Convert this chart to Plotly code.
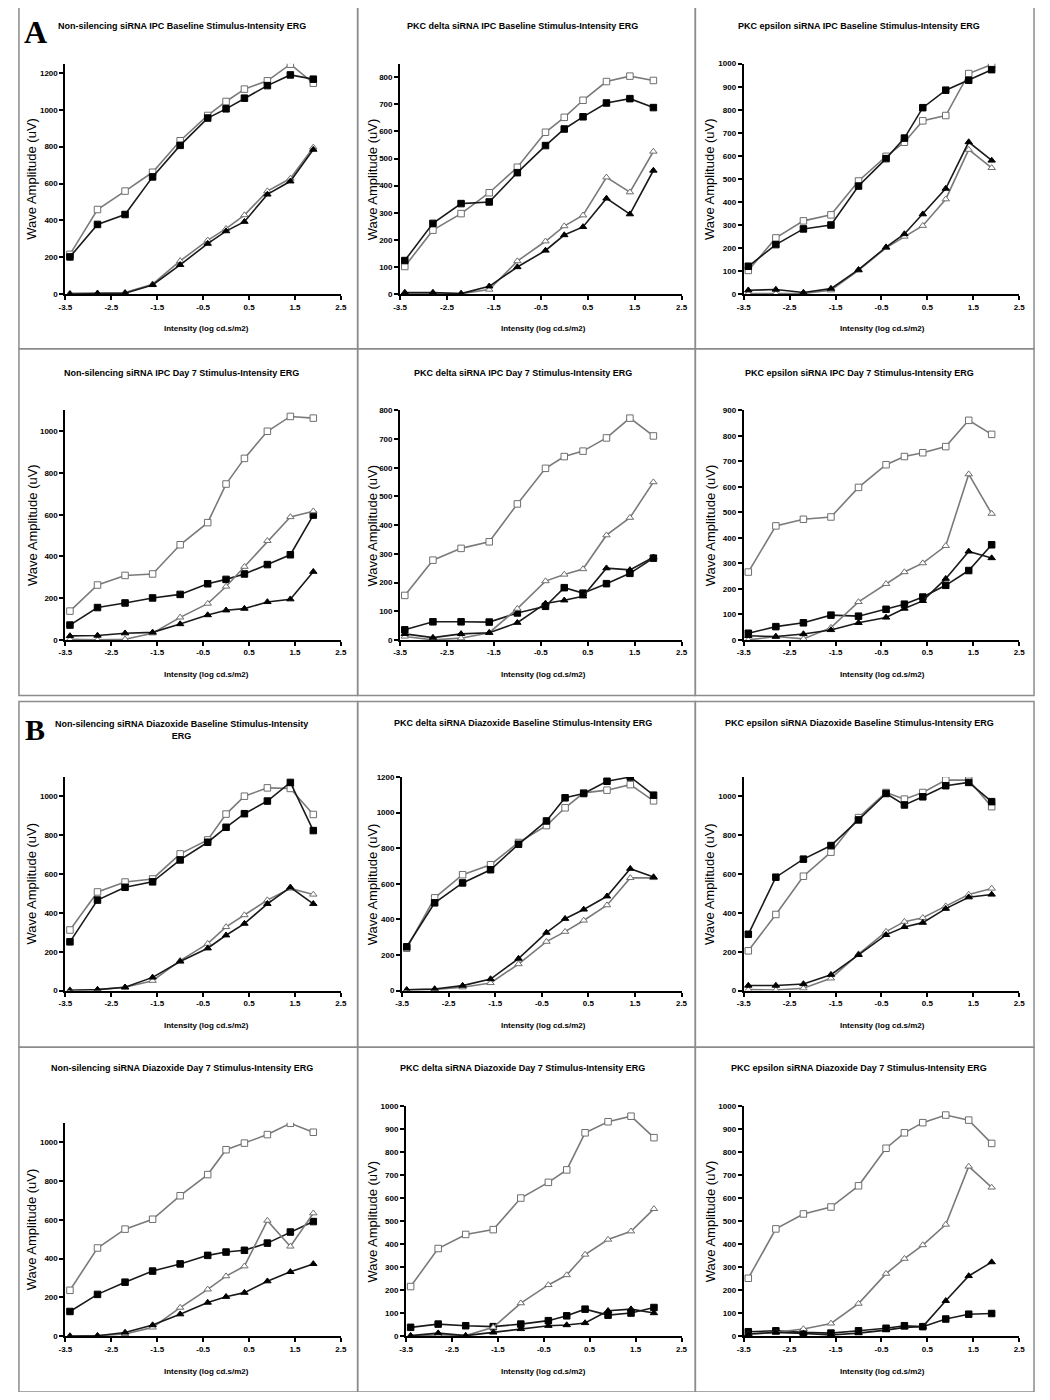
import plotly.graph_objects as go

# ---------------- data ----------------
intensity = [-3.4, -2.8, -2.2, -1.6, -1.0, -0.4, 0.0, 0.4, 0.9, 1.4, 1.9]
x_ticks = [-3.5, -2.5, -1.5, -0.5, 0.5, 1.5, 2.5]
x_tick_labels = ["-3.5", "-2.5", "-1.5", "-0.5", "0.5", "1.5", "2.5"]

titles = [
    "Non-silencing siRNA IPC Baseline Stimulus-Intensity ERG",
    "PKC delta siRNA IPC Baseline Stimulus-Intensity ERG",
    "PKC epsilon siRNA IPC Baseline Stimulus-Intensity ERG",
    "Non-silencing siRNA IPC Day 7 Stimulus-Intensity ERG",
    "PKC delta siRNA IPC Day 7 Stimulus-Intensity ERG",
    "PKC epsilon siRNA IPC Day 7 Stimulus-Intensity ERG",
    "Non-silencing siRNA Diazoxide Baseline Stimulus-Intensity<br>ERG",
    "PKC delta siRNA Diazoxide Baseline Stimulus-Intensity ERG",
    "PKC epsilon siRNA Diazoxide Baseline Stimulus-Intensity ERG",
    "Non-silencing siRNA Diazoxide Day 7 Stimulus-Intensity ERG",
    "PKC delta siRNA Diazoxide Day 7 Stimulus-Intensity ERG",
    "PKC epsilon siRNA Diazoxide Day 7 Stimulus-Intensity ERG",
]
y_max = [1250, 850, 1000, 1100, 800, 900, 1100, 1200, 1100, 1100, 1000, 1000]
y_dtick = [200, 100, 100, 200, 100, 100, 200, 200, 200, 200, 100, 100]

# panel 1
p1_open_sq = [216, 459, 559, 661, 832, 969, 1045, 1112, 1157, 1247, 1144]
p1_fill_sq = [202, 378, 432, 636, 807, 955, 1005, 1063, 1131, 1189, 1166]
p1_open_tri = [4, 5, 9, 54, 180, 292, 355, 429, 559, 627, 796]
p1_fill_tri = [0, 4, 5, 50, 159, 274, 342, 393, 541, 612, 784]
# panel 2
p2_open_sq = [102, 236, 297, 374, 468, 597, 652, 715, 784, 804, 788]
p2_fill_sq = [124, 261, 334, 340, 448, 548, 609, 654, 705, 721, 688]
p2_open_tri = [2, 2, 2, 17, 122, 195, 251, 291, 431, 376, 526]
p2_fill_tri = [6, 6, 2, 29, 100, 161, 218, 248, 353, 295, 456]
# panel 3
p3_open_sq = [103, 244, 318, 344, 491, 598, 659, 752, 775, 957, 996]
p3_fill_sq = [121, 215, 283, 300, 469, 588, 677, 809, 885, 928, 974]
p3_open_tri = [3, 3, 3, 17, 103, 201, 250, 297, 412, 627, 548]
p3_fill_tri = [17, 20, 7, 24, 106, 204, 261, 347, 458, 660, 580]
# panel 4
p4_open_sq = [138, 263, 309, 316, 456, 562, 747, 870, 1000, 1071, 1063]
p4_fill_sq = [71, 155, 177, 201, 218, 269, 290, 316, 361, 408, 598]
p4_open_tri = [3, 0, 3, 32, 108, 174, 256, 351, 475, 589, 617]
p4_fill_tri = [19, 21, 32, 36, 76, 119, 142, 150, 182, 195, 327]
# panel 5
p5_open_sq = [155, 278, 319, 342, 474, 598, 639, 658, 704, 773, 711]
p5_fill_sq = [35, 63, 63, 62, 94, 117, 182, 163, 196, 232, 285]
p5_open_tri = [12, 0, 6, 25, 109, 205, 228, 247, 365, 426, 550]
p5_fill_tri = [21, 8, 21, 25, 60, 127, 138, 152, 250, 244, 288]
# panel 6
p6_open_sq = [266, 447, 473, 482, 598, 687, 719, 734, 758, 861, 806]
p6_fill_sq = [26, 52, 67, 97, 93, 120, 140, 168, 214, 272, 373]
p6_open_tri = [0, 13, 4, 48, 149, 220, 266, 301, 369, 650, 495]
p6_fill_tri = [16, 13, 23, 39, 67, 88, 123, 153, 240, 347, 321]
# panel 7
p7_open_sq = [312, 508, 559, 575, 704, 776, 909, 1001, 1044, 1041, 907]
p7_fill_sq = [251, 466, 532, 560, 673, 764, 841, 911, 976, 1072, 824]
p7_open_tri = [3, 5, 17, 51, 154, 242, 328, 389, 466, 526, 495]
p7_fill_tri = [0, 5, 17, 68, 150, 218, 285, 345, 447, 532, 447]
# panel 8
p8_open_sq = [238, 521, 651, 707, 832, 927, 1027, 1111, 1126, 1157, 1066]
p8_fill_sq = [246, 493, 605, 679, 822, 953, 1083, 1107, 1176, 1200, 1098]
p8_open_tri = [4, 7, 19, 43, 149, 275, 331, 394, 480, 633, 633]
p8_fill_tri = [4, 9, 28, 65, 180, 326, 404, 456, 530, 685, 638]
# panel 9
p9_open_sq = [205, 392, 589, 713, 891, 1020, 986, 1020, 1084, 1084, 947]
p9_fill_sq = [290, 584, 677, 747, 879, 1015, 956, 998, 1055, 1072, 973]
p9_open_tri = [5, 3, 12, 63, 188, 304, 355, 375, 435, 495, 526]
p9_fill_tri = [26, 26, 34, 82, 184, 287, 328, 350, 422, 481, 495]
# panel 10
p10_open_sq = [237, 455, 552, 603, 724, 833, 961, 995, 1039, 1097, 1051]
p10_fill_sq = [128, 216, 279, 336, 373, 417, 434, 443, 480, 537, 591]
p10_open_tri = [3, 3, 12, 46, 148, 242, 310, 361, 596, 463, 634]
p10_fill_tri = [0, 3, 20, 58, 114, 174, 204, 225, 284, 332, 373]
# panel 11
p11_open_sq = [216, 381, 442, 463, 600, 668, 722, 883, 931, 955, 862]
p11_fill_sq = [39, 53, 46, 42, 53, 68, 89, 118, 92, 101, 125]
p11_open_tri = [0, 7, 3, 39, 144, 223, 266, 355, 420, 456, 553]
p11_fill_tri = [3, 14, 3, 17, 32, 46, 49, 58, 111, 118, 101]
# panel 12
p12_open_sq = [252, 466, 531, 561, 653, 816, 883, 927, 960, 938, 837]
p12_fill_sq = [20, 24, 17, 14, 24, 35, 46, 42, 75, 96, 99]
p12_open_tri = [10, 17, 32, 56, 142, 272, 337, 396, 485, 737, 646]
p12_fill_tri = [10, 17, 13, 6, 14, 27, 39, 42, 154, 262, 322]

series = [
    (p1_open_sq, p1_fill_sq, p1_open_tri, p1_fill_tri),
    (p2_open_sq, p2_fill_sq, p2_open_tri, p2_fill_tri),
    (p3_open_sq, p3_fill_sq, p3_open_tri, p3_fill_tri),
    (p4_open_sq, p4_fill_sq, p4_open_tri, p4_fill_tri),
    (p5_open_sq, p5_fill_sq, p5_open_tri, p5_fill_tri),
    (p6_open_sq, p6_fill_sq, p6_open_tri, p6_fill_tri),
    (p7_open_sq, p7_fill_sq, p7_open_tri, p7_fill_tri),
    (p8_open_sq, p8_fill_sq, p8_open_tri, p8_fill_tri),
    (p9_open_sq, p9_fill_sq, p9_open_tri, p9_fill_tri),
    (p10_open_sq, p10_fill_sq, p10_open_tri, p10_fill_tri),
    (p11_open_sq, p11_fill_sq, p11_open_tri, p11_fill_tri),
    (p12_open_sq, p12_fill_sq, p12_open_tri, p12_fill_tri),
]

# ---------------- layout (page pixels) ----------------
PAGE_W, PAGE_H = 1050, 1400
OFF = 8  # default body margin of the html page
W, H = PAGE_W - 2 * OFF, PAGE_H - 2 * OFF

plot_boxes = [
    (59, 60, 338, 292), (398, 60, 683, 292), (746, 60, 1025, 292),
    (59, 409, 338, 640), (398, 409, 683, 640), (746, 409, 1025, 640),
    (59, 778, 338, 993), (400, 778, 683, 993), (746, 778, 1025, 993),
    (59, 1126, 338, 1341), (404, 1109, 683, 1341), (746, 1109, 1025, 1341),
]
title_y = [22, 22, 22, 371, 371, 371, 731, 724, 724, 1071, 1071, 1071]
xtitle_y = [327, 327, 327, 675, 675, 675, 1028, 1028, 1028, 1376, 1376, 1376]
col_title_x = [177, 522, 863]
col_xtitle_x = [202, 543, 887]
col_ytitle_x = [25, 370, 712]


def px(x):
    return (x - OFF) / W


def py(y):
    return 1 - (y - OFF) / H


FONT = "Liberation Sans, Arial"

fig = go.Figure()
annotations = []
shapes = []

for i in range(12):
    ax = "" if i == 0 else str(i + 1)
    xref = "x" + ax
    yref = "y" + ax
    l, t, r, b = plot_boxes[i]
    os_, fs_, ot_, ft_ = series[i]
    specs = [
        (os_, "square", "white", "#6e6e6e", "#7a7a7a"),
        (fs_, "square", "black", "black", "#1a1a1a"),
        (ot_, "triangle-up", "white", "#6e6e6e", "#7a7a7a"),
        (ft_, "triangle-up", "black", "black", "#1a1a1a"),
    ]
    for vals, sym, fill, mline, lcol in specs:
        fig.add_trace(go.Scatter(
            x=intensity, y=vals, mode="lines+markers",
            line=dict(color=lcol, width=1.6),
            marker=dict(symbol=sym, size=6.5, color=fill,
                        line=dict(color=mline, width=1)),
            xaxis=xref, yaxis=yref, showlegend=False, hoverinfo="skip",
        ))
    fig.layout["xaxis" + ax] = dict(
        domain=[px(l), px(r)], anchor=yref, range=[-3.5, 2.5],
        tickvals=x_ticks, ticktext=["<b>%s</b>" % s for s in x_tick_labels],
        showline=True, linecolor="black", linewidth=2,
        ticks="outside", ticklen=4, tickwidth=1.5, tickcolor="black",
        showgrid=False, zeroline=False,
        tickfont=dict(family=FONT, size=8, color="black"),
    )
    ytv = list(range(0, y_max[i] + 1, y_dtick[i]))
    fig.layout["yaxis" + ax] = dict(
        domain=[py(b), py(t)], anchor=xref, range=[0, y_max[i]],
        tickvals=ytv, ticktext=["<b>%d</b>" % v for v in ytv],
        showline=True, linecolor="black", linewidth=2,
        ticks="outside", ticklen=4, tickwidth=1.5, tickcolor="black",
        showgrid=False, zeroline=False,
        tickfont=dict(family=FONT, size=8, color="black"),
    )
    col = i % 3
    annotations.append(dict(
        text="<b>%s</b>" % titles[i], x=px(col_title_x[col]), y=py(title_y[i]),
        xref="paper", yref="paper", showarrow=False, xanchor="center", yanchor="middle",
        font=dict(family=FONT, size=9, color="black"),
    ))
    annotations.append(dict(
        text="<b>Intensity (log cd.s/m2)</b>", x=px(col_xtitle_x[col]), y=py(xtitle_y[i]),
        xref="paper", yref="paper", showarrow=False, xanchor="center", yanchor="middle",
        font=dict(family=FONT, size=8, color="black"),
    ))
    annotations.append(dict(
        text="Wave Amplitude (uV)", x=px(col_ytitle_x[col]), y=py((t + b) / 2),
        xref="paper", yref="paper", showarrow=False, xanchor="center", yanchor="middle",
        textangle=-90, font=dict(family=FONT, size=13, color="black"),
    ))

# panel frames
col_edges = [12, 355, 697, 1040]
group_rows = [(3, 347, 696), (702, 1050, 1397)]
for top, mid, bot in group_rows:
    for y0, y1 in [(top, mid), (mid, bot)]:
        for c in range(3):
            shapes.append(dict(
                type="rect", xref="paper", yref="paper",
                x0=px(col_edges[c]), x1=px(col_edges[c + 1]), y0=py(y1), y1=py(y0),
                line=dict(color="#8c8c8c", width=1.5), fillcolor="rgba(0,0,0,0)",
            ))

annotations.append(dict(text="<b>A</b>", x=px(29), y=py(28), xref="paper", yref="paper",
                        xanchor="center", yanchor="middle", showarrow=False,
                        font=dict(family="Liberation Serif, Times New Roman", size=32, color="black")))
annotations.append(dict(text="<b>B</b>", x=px(28), y=py(730), xref="paper", yref="paper",
                        xanchor="center", yanchor="middle", showarrow=False,
                        font=dict(family="Liberation Serif, Times New Roman", size=30, color="black")))

fig.update_layout(
    width=W, height=H, margin=dict(l=0, r=0, t=0, b=0),
    paper_bgcolor="white", plot_bgcolor="white",
    annotations=annotations, shapes=shapes,
)

fig.write_html("out.html")
